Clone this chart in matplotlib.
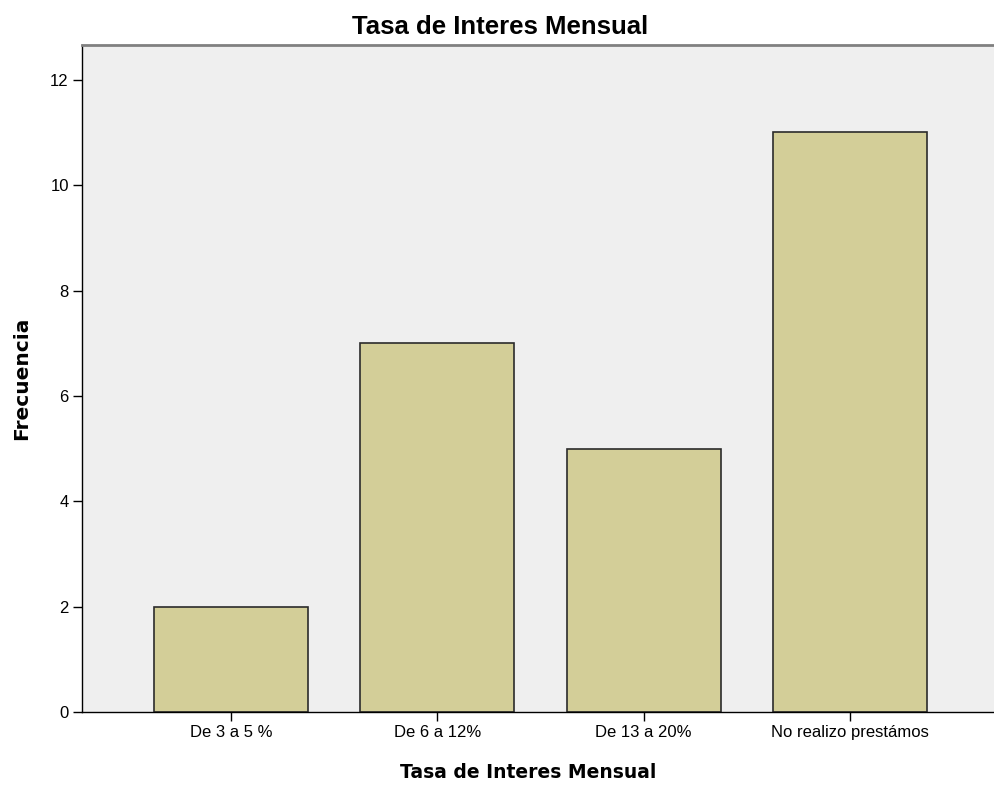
import matplotlib
matplotlib.use("Agg")
import matplotlib.pyplot as plt

categories = ["De 3 a 5 %", "De 6 a 12%", "De 13 a 20%", "No realizo prestámos"]
counts = [2, 7, 5, 11]
yticks = [0, 2, 4, 6, 8, 10, 12]

plt.rcParams["font.family"] = ["Liberation Sans", "DejaVu Sans"]

fig = plt.figure(figsize=(9.95, 7.85), dpi=100)
ax = fig.add_axes([82 / 995, 1 - 712 / 785, 1 - 82 / 995, (712 - 45) / 785])
ax.set_facecolor("#efefef")

x = list(range(len(categories)))
ax.bar(x, counts, width=0.747, color="#d3ce98", edgecolor="#2b2b2b", linewidth=1.2, zorder=2)

ax.set_xlim(-0.722, 3.703)
ax.set_ylim(0, 12.66)
ax.set_xticks(x)
ax.set_xticklabels(categories, fontsize=12)
ax.set_yticks(yticks)
ax.set_yticklabels([str(v) for v in yticks], fontsize=12)
ax.tick_params(axis="both", direction="out", length=6.5, width=1, color="black", pad=3)

for side in ["left", "bottom"]:
    ax.spines[side].set_color("black")
    ax.spines[side].set_linewidth(1)
ax.spines["top"].set_color("#808080")
ax.spines["top"].set_linewidth(2)
ax.spines["right"].set_visible(False)

# titulo y etiquetas de ejes
fig.text(500 / 995, 1 - 27 / 785, "Tasa de Interes Mensual", ha="center", va="center",
         fontsize=18.5, fontweight="bold")
fig.text(528 / 995, 1 - 772 / 785, "Tasa de Interes Mensual", ha="center", va="center",
         fontsize=13.5, fontweight="bold", family="DejaVu Sans")
fig.text(22 / 995, 1 - 378 / 785, "Frecuencia", ha="center", va="center", rotation=90,
         fontsize=14.5, fontweight="bold", family="DejaVu Sans")

fig.savefig("out.png", dpi=100)
